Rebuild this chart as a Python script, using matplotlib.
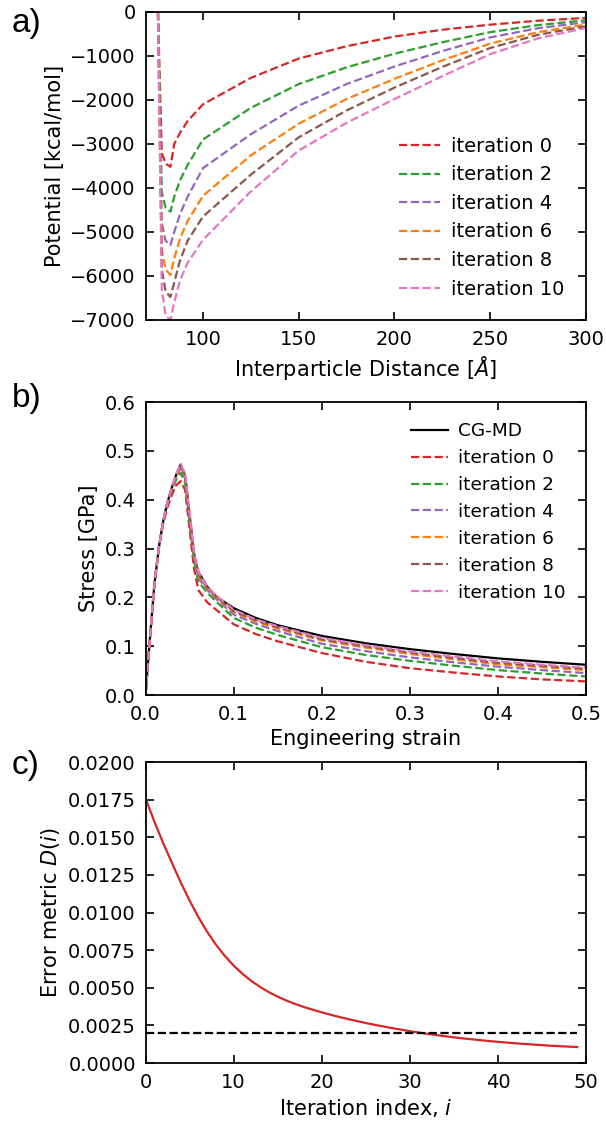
import numpy as np
import matplotlib
matplotlib.use("Agg")
import matplotlib.pyplot as plt

plt.rcParams['font.family'] = ['DejaVu Sans']
plt.rcParams['mathtext.fontset'] = 'dejavusans'

COLORS = ['#d62728', '#2ca02c', '#9467bd', '#ff7f0e', '#8c564b', '#e377c2']
ITER_LABELS = ['iteration 0', 'iteration 2', 'iteration 4',
               'iteration 6', 'iteration 8', 'iteration 10']

# ---- a) potentials ----
distance = [76.5, 78.5, 80.5, 83, 85, 88, 92, 100, 125, 150, 175, 200, 225, 250, 275, 300]
pot_it0 = [0, -3200, -3450, -3520, -3000, -2750, -2480, -2100, -1500, -1060, -780, -560, -405, -290, -200, -136]
pot_it2 = [0, -4100, -4450, -4540, -4200, -3830, -3480, -2900, -2180, -1640, -1260, -950, -690, -460, -300, -190]
pot_it4 = [0, -4800, -5200, -5300, -5000, -4600, -4200, -3550, -2780, -2130, -1640, -1240, -890, -580, -370, -235]
pot_it6 = [0, -5400, -5850, -5980, -5600, -5150, -4750, -4180, -3260, -2540, -1980, -1520, -1100, -720, -460, -288]
pot_it8 = [0, -5850, -6350, -6480, -6150, -5650, -5200, -4650, -3700, -2850, -2240, -1720, -1250, -820, -520, -326]
pot_it10 = [0, -6300, -6900, -7000, -6600, -6100, -5700, -5180, -4080, -3150, -2520, -1980, -1460, -960, -600, -364]

# ---- b) stress-strain ----
strain = [0, 0.005, 0.01, 0.015, 0.02, 0.025, 0.03, 0.035, 0.04, 0.045, 0.05, 0.055, 0.06,
          0.07, 0.08, 0.1, 0.125, 0.15, 0.2, 0.25, 0.3, 0.35, 0.4, 0.45, 0.5]
stress_md = [0, 0.115, 0.225, 0.30, 0.355, 0.395, 0.425, 0.452, 0.472, 0.445, 0.36, 0.285, 0.252,
             0.222, 0.202, 0.178, 0.158, 0.143, 0.121, 0.106, 0.094, 0.084, 0.075, 0.068, 0.062]
stress_it0 = [0, 0.115, 0.225, 0.30, 0.35, 0.385, 0.41, 0.43, 0.438, 0.42, 0.34, 0.26, 0.215,
              0.19, 0.175, 0.145, 0.125, 0.110, 0.086, 0.068, 0.055, 0.046, 0.038, 0.032, 0.028]
stress_it2 = [0, 0.115, 0.225, 0.30, 0.355, 0.393, 0.42, 0.442, 0.455, 0.435, 0.355, 0.275, 0.232,
              0.21, 0.192, 0.158, 0.138, 0.123, 0.098, 0.082, 0.070, 0.060, 0.051, 0.044, 0.038]
stress_it4 = [0, 0.115, 0.225, 0.30, 0.355, 0.395, 0.423, 0.448, 0.465, 0.445, 0.365, 0.285, 0.240,
              0.215, 0.197, 0.165, 0.146, 0.131, 0.105, 0.090, 0.077, 0.067, 0.058, 0.051, 0.045]
stress_it6 = [0, 0.115, 0.225, 0.30, 0.355, 0.395, 0.425, 0.45, 0.468, 0.448, 0.37, 0.29, 0.245,
              0.218, 0.200, 0.170, 0.151, 0.136, 0.112, 0.097, 0.084, 0.073, 0.063, 0.057, 0.051]
stress_it8 = [0, 0.115, 0.225, 0.30, 0.355, 0.395, 0.425, 0.451, 0.470, 0.45, 0.372, 0.292, 0.248,
              0.220, 0.202, 0.172, 0.153, 0.139, 0.114, 0.100, 0.087, 0.076, 0.066, 0.060, 0.054]
stress_it10 = [0, 0.115, 0.225, 0.30, 0.355, 0.395, 0.426, 0.453, 0.474, 0.452, 0.375, 0.295, 0.252,
               0.222, 0.204, 0.175, 0.155, 0.141, 0.117, 0.102, 0.089, 0.079, 0.069, 0.062, 0.056]

# ---- c) error metric ----
error_D = [0.01760, 0.01605, 0.01462, 0.01330, 0.01200, 0.01080, 0.00970, 0.00872, 0.00786, 0.00712,
           0.00648, 0.00593, 0.00546, 0.00506, 0.00471, 0.00441, 0.00415, 0.00392, 0.00372, 0.00354,
           0.00337, 0.00321, 0.00306, 0.00292, 0.00279, 0.00266, 0.00254, 0.00243, 0.00232, 0.00222,
           0.00212, 0.00203, 0.00194, 0.00186, 0.00178, 0.00171, 0.00164, 0.00158, 0.00152, 0.00146,
           0.00141, 0.00136, 0.00131, 0.00127, 0.00123, 0.00119, 0.00115, 0.00112, 0.00109, 0.00106]
threshold = 0.002

TICK_FS = 14
LABEL_FS = 15
AX_LEFT = 0.2401
AX_WIDTH = 0.7269


def style_axis(ax):
    """ticks inside on every side"""
    ax.tick_params(direction='in', top=True, right=True, length=6, width=1.2,
                   labelsize=TICK_FS, pad=7)
    for s in ax.spines.values():
        s.set_linewidth(1.3)


fig = plt.figure(figsize=(6.06, 11.23), dpi=100)

# a)
ax1 = fig.add_axes([AX_LEFT, 0.7151, AX_WIDTH, 0.2743])
pots = [pot_it0, pot_it2, pot_it4, pot_it6, pot_it8, pot_it10]
for p, c, lab in zip(pots, COLORS, ITER_LABELS):
    ax1.plot(distance, p, '--', color=c, lw=1.6, label=lab)
ax1.set_xlim(70, 300)
ax1.set_ylim(-7000, 0)
ax1.set_xticks([100, 150, 200, 250, 300])
ax1.set_yticks(np.arange(-7000, 1, 1000))
ax1.set_xlabel(r'Interparticle Distance [$\mathit{Å}$]', fontsize=LABEL_FS)
ax1.set_ylabel('Potential [kcal/mol]', fontsize=LABEL_FS)
style_axis(ax1)
ax1.legend(loc='lower right', frameon=False, fontsize=14, handlelength=2.1,
           handletextpad=0.6, labelspacing=0.49, borderaxespad=0.7)

# b)
ax2 = fig.add_axes([AX_LEFT, 0.3811, AX_WIDTH, 0.2609])
ax2.plot(strain, stress_md, '-', color='black', lw=1.6, label='CG-MD')
stresses = [stress_it0, stress_it2, stress_it4, stress_it6, stress_it8, stress_it10]
for s, c, lab in zip(stresses, COLORS, ITER_LABELS):
    ax2.plot(strain, s, '--', color=c, lw=1.6, label=lab)
ax2.set_xlim(0, 0.5)
ax2.set_ylim(0, 0.6)
ax2.set_xticks(np.arange(0, 0.51, 0.1))
ax2.set_yticks(np.arange(0, 0.61, 0.1))
ax2.xaxis.set_major_formatter(matplotlib.ticker.FormatStrFormatter('%.1f'))
ax2.yaxis.set_major_formatter(matplotlib.ticker.FormatStrFormatter('%.1f'))
ax2.set_xlabel('Engineering strain', fontsize=LABEL_FS)
ax2.set_ylabel('Stress [GPa]', fontsize=LABEL_FS)
style_axis(ax2)
ax2.legend(loc='upper right', frameon=False, fontsize=13.3, handlelength=2.0,
           handletextpad=0.55, labelspacing=0.48, borderaxespad=0.7)

# c)
ax3 = fig.add_axes([AX_LEFT, 0.0534, AX_WIDTH, 0.268])
iters = np.arange(len(error_D))
ax3.plot(iters, error_D, '-', color='#d62728', lw=1.6)
ax3.plot([iters[0], iters[-1]], [threshold, threshold], '--', color='black', lw=1.6)
ax3.set_xlim(0, 50)
ax3.set_ylim(0, 0.02)
ax3.set_xticks(np.arange(0, 51, 10))
ax3.set_yticks(np.arange(0, 0.02001, 0.0025))
ax3.yaxis.set_major_formatter(matplotlib.ticker.FormatStrFormatter('%.4f'))
ax3.set_xlabel(r'Iteration index, $i$', fontsize=LABEL_FS)
ax3.set_ylabel(r'Error metric $D(i)$', fontsize=LABEL_FS)
style_axis(ax3)

# panel letters
for y, t in [(0.9929, 'a)'), (0.659, 'b)'), (0.332, 'c)')]:
    fig.text(0.02, y, t, fontsize=24, family='Liberation Sans', va='top', ha='left')

fig.savefig('out.png', dpi=100)
